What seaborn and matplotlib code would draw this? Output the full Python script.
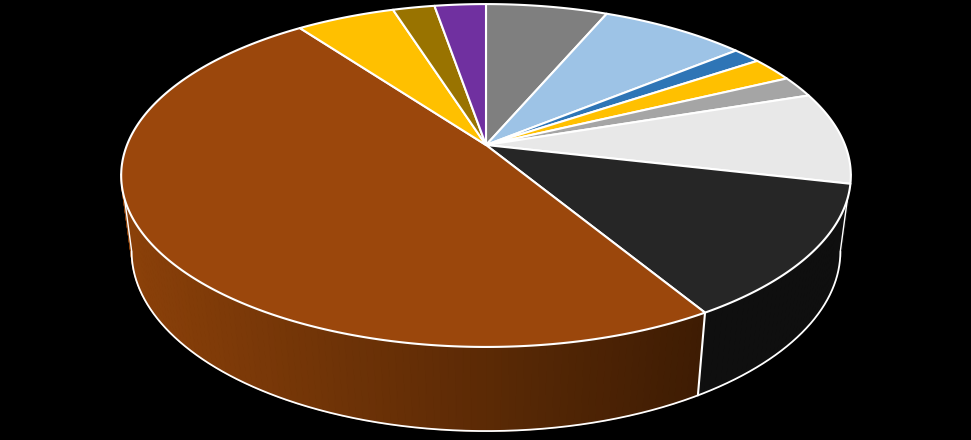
import numpy as np
import matplotlib
matplotlib.use("Agg")
import matplotlib.pyplot as plt
import seaborn as sns
from matplotlib.colors import to_rgb

categories = ["A", "B", "C", "D", "E", "F", "G", "H", "I", "J", "K"]
values = [6.4, 7.7, 1.5, 2.3, 2.0, 8.7, 12.75, 48.55, 5.2, 2.2, 2.7]
colors = ["#7f7f7f", "#9dc3e6", "#2e75b6", "#ffc000", "#a5a5a5", "#e8e8e8",
          "#262626", "#9b470c", "#ffc000", "#997300", "#7030a0"]
side_left = {7: "#8a4009"}
side_right = {7: "#3e1c03"}
side_flat = {6: "#0f0f0f", 5: "#0f0f0f"}

sns.set_theme(style="white")
fig = plt.figure(figsize=(9.71, 4.40), dpi=100, facecolor="black")
ax = fig.add_axes([0, 0, 1, 1])

# The pie computes the wedge angles from the values
wedges, _ = ax.pie(values, startangle=90, counterclock=False, labels=None)
spans = [(w.theta1, w.theta2) for w in wedges]
for w in wedges:
    w.remove()

ax.set_facecolor("black")
ax.set_aspect("auto")
ax.set_xlim(0, 971)
ax.set_ylim(440, 0)
ax.axis("off")

CX, CY = 486.0, 145.0
D, A, C = 359.0, 166.0, 0.178
E, G = 0.0285, 77.3
SIN_TANGENT = -0.17


def project(theta, depth=0.0):
    t = np.radians(theta)
    u, v = np.cos(t), np.sin(t)
    w = 1 + C * v + E * depth
    return CX + D * u / w, CY - (A * v - G * depth) / w


WHITE = "white"
strips = []
for i, (t1, t2) in enumerate(spans):
    n = max(2, int((t2 - t1) / 1.0) + 1)
    th = np.linspace(t1, t2, n)
    for a, b in zip(th[:-1], th[1:]):
        strips.append((i, a, b))
# back to front
strips.sort(key=lambda s: -np.sin(np.radians((s[1] + s[2]) / 2)))

for i, a, b in strips:
    if np.sin(np.radians((a + b) / 2)) > SIN_TANGENT + 0.01:
        continue
    x0, y0 = project(a)
    x1, y1 = project(b)
    x2, y2 = project(b, 1)
    x3, y3 = project(a, 1)
    if i in side_left:
        f = np.clip((x0 - 130) / (700 - 130), 0, 1)
        col = tuple((1 - f) * np.array(to_rgb(side_left[i])) + f * np.array(to_rgb(side_right[i])))
    else:
        col = side_flat.get(i, colors[i])
    ax.fill([x0, x1, x2, x3], [y0, y1, y2, y3], facecolor=col, edgecolor=col, lw=1.0, zorder=2)

# white outline of the visible wall
tt = np.linspace(-180, 0, 721)
tt = tt[np.sin(np.radians(tt)) < SIN_TANGENT]
bx, by = project(tt, 1)
ax.plot(bx, by, color=WHITE, lw=1.3, zorder=3, solid_capstyle="round")

for side_t in (spans[7][1], spans[7][0]):
    if np.sin(np.radians(side_t)) < 0:
        px0, py0 = project(side_t)
        px1, py1 = project(side_t, 1)
        ax.plot([px0, px1], [py0, py1], color=WHITE, lw=1.5, zorder=3)

# silhouette edges
t_sil = np.degrees(np.arcsin(-SIN_TANGENT))
for t_edge in (-t_sil, 180 + t_sil):
    xa, ya = project(t_edge)
    xb, yb = project(t_edge, 1)
    ax.plot([xa, xb], [ya, yb], color=WHITE, lw=1.0, zorder=3)

# top face
for i, (t1, t2) in enumerate(spans):
    th = np.linspace(t1, t2, max(3, int((t2 - t1) * 2)))
    xs, ys = project(th)
    ax.fill(np.r_[CX, xs], np.r_[CY, ys], facecolor=colors[i], edgecolor=WHITE,
            lw=1.5, joinstyle="round", zorder=4)

fig.savefig("out.png", dpi=100, facecolor="black")
